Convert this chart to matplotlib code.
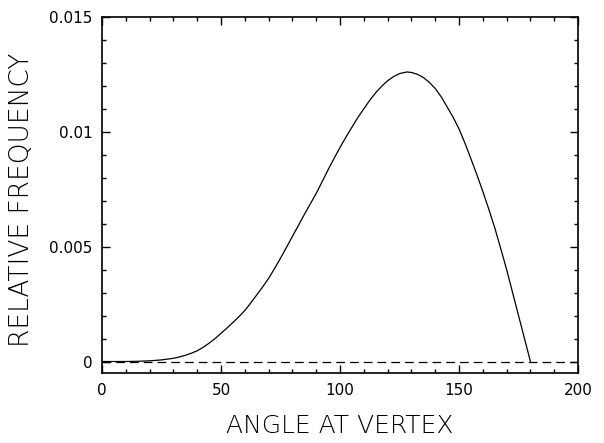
import matplotlib
matplotlib.use("Agg")
import matplotlib.pyplot as plt
from matplotlib.ticker import MultipleLocator

# angle at vertex (degrees) and its relative frequency
angle = [0, 5, 10, 15, 20, 25, 30, 32.5, 35, 37.5, 40, 42.5, 45, 47.5, 50,
         52.5, 55, 57.5, 60, 62.5, 65, 67.5, 70, 72.5, 75, 77.5, 80, 82.5,
         85, 87.5, 90, 92.5, 95, 97.5, 100, 102.5, 105, 107.5, 110, 112.5,
         115, 117.5, 120, 122.5, 125, 128, 130, 132.5, 135, 137.5, 140,
         142.5, 145, 147.5, 150, 152.5, 155, 157.5, 160, 162.5, 165, 167.5,
         170, 180]
freq = [0.0, 0.0, 0.0, 0.00001, 0.00003, 0.00007, 0.00014, 0.00020, 0.00027,
        0.00036, 0.00047, 0.00062, 0.00080, 0.00100, 0.00123, 0.00146,
        0.00170, 0.00195, 0.00222, 0.00255, 0.00290, 0.00325, 0.00362,
        0.00405, 0.00450, 0.00497, 0.00545, 0.00592, 0.00640, 0.00686,
        0.00732, 0.00783, 0.00835, 0.00884, 0.00932, 0.00977, 0.01020,
        0.01062, 0.01100, 0.01137, 0.01170, 0.01198, 0.01222, 0.01240,
        0.01253, 0.01260, 0.01258, 0.01250, 0.01236, 0.01215, 0.01188,
        0.01152, 0.01108, 0.01063, 0.01012, 0.00950, 0.00882, 0.00813,
        0.00740, 0.00663, 0.00582, 0.00492, 0.00400, 0.0]

x_ticks = [0, 50, 100, 150, 200]
y_ticks = [0, 0.005, 0.01, 0.015]
y_tick_labels = ["0", "0.005", "0.01", "0.015"]

plt.rcParams["font.family"] = "DejaVu Sans"

fig = plt.figure(figsize=(6.04, 4.43), dpi=100)
ax = fig.add_axes([0.169, 0.158, 0.788, 0.804])

ax.plot(angle, freq, color="black", linewidth=0.9)
ax.plot([0, 200], [0, 0], color="black", linewidth=0.9,
        linestyle=(0, (7, 4)))

ax.set_xlim(0, 200)
ax.set_ylim(-0.0005, 0.015)
ax.set_xticks(x_ticks)
ax.set_xticklabels([str(v) for v in x_ticks])
ax.set_yticks(y_ticks)
ax.set_yticklabels(y_tick_labels)
ax.xaxis.set_minor_locator(MultipleLocator(10))
ax.yaxis.set_minor_locator(MultipleLocator(0.001))

ax.tick_params(which="both", direction="in", top=True, right=True,
               labelsize=11, width=1)
ax.tick_params(which="major", length=6, pad=7)
ax.tick_params(which="minor", length=3)
for s in ax.spines.values():
    s.set_linewidth(1.2)

ax.set_xlabel("ANGLE AT VERTEX", fontsize=18, fontweight="light",
              color="black", labelpad=12)
ax.set_ylabel("RELATIVE FREQUENCY", fontsize=19, fontweight="light",
              color="black")
ax.yaxis.set_label_coords(-0.142, 0.485)

fig.savefig("out.png", dpi=100)
